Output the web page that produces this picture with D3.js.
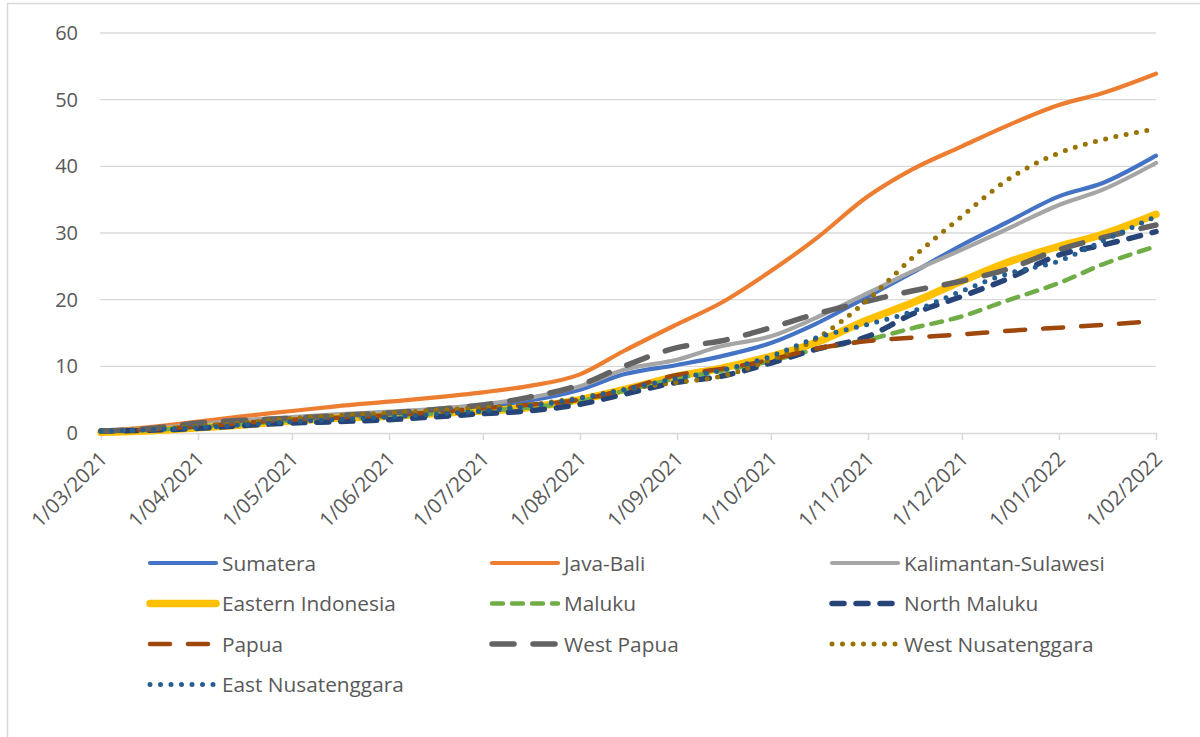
<!DOCTYPE html>
<html>
<head>
<meta charset="utf-8">
<script src="https://cdn.jsdelivr.net/npm/d3@7"></script>
<style>
  html, body { margin: 0; padding: 0; background: #fff; }
  svg { display: block; font-family: "Open Sans", "Noto Sans", sans-serif; }
</style>
</head>
<body>
<svg id="chart" width="1200" height="737"></svg>
<script>
// Semi-monthly sample dates, March 2021 to February 2022
const dates = ["2021-03-01","2021-03-15","2021-04-01","2021-04-15","2021-05-01","2021-05-15",
  "2021-06-01","2021-06-15","2021-07-01","2021-07-15","2021-08-01","2021-08-15",
  "2021-09-01","2021-09-15","2021-10-01","2021-10-15","2021-11-01","2021-11-15",
  "2021-12-01","2021-12-15","2022-01-01","2022-01-15","2022-02-01"];

// Region series
const sumatera   = [0.3,0.5,1.2,1.7,2.2,2.6,3.0,3.4,4.0,4.8,6.5,8.8,10.2,11.5,13.5,16.3,20.5,24.0,28.2,31.5,35.5,37.5,41.6];
const javaBali   = [0.3,0.8,1.7,2.5,3.3,4.0,4.7,5.3,6.1,7.0,8.8,12.3,16.3,19.5,24.3,29.0,35.5,39.5,43.0,46.0,49.2,51.0,53.9];
const kalSul     = [0.3,0.6,1.3,1.9,2.4,2.8,3.2,3.6,4.3,5.2,7.0,9.5,11.0,13.0,14.5,17.2,21.0,24.2,27.5,30.5,34.2,36.5,40.5];
const easternIdn = [0.1,0.3,0.8,1.2,1.8,2.2,2.5,2.9,3.3,3.8,5.0,6.5,8.5,9.7,11.5,13.5,17.0,19.5,22.8,25.5,28.0,29.8,32.8];
const maluku     = [0.2,0.4,0.9,1.3,1.9,2.2,2.5,2.9,3.3,3.8,4.8,6.3,8.2,9.3,10.8,12.5,14.0,15.7,17.5,19.8,22.5,25.3,28.0];
const northMal   = [0.3,0.4,0.7,1.1,1.5,1.7,2.0,2.4,2.9,3.3,4.3,5.8,7.6,8.5,10.5,12.5,14.5,17.8,20.5,23.0,26.7,28.2,30.2];
const papua      = [0.3,0.5,1.0,1.5,2.0,2.3,2.7,3.1,3.7,4.2,5.0,6.5,8.7,9.6,11.0,12.6,13.8,14.3,14.8,15.3,15.8,16.2,16.8];
const westPapua  = [0.3,0.6,1.5,1.9,2.2,2.6,3.0,3.5,4.2,5.3,7.2,10.0,12.8,13.8,15.8,17.8,19.8,21.3,22.8,24.5,27.5,29.3,31.2];
const westNusa   = [0.3,0.5,1.0,1.5,2.2,2.6,3.0,3.4,3.8,4.2,5.3,6.5,7.6,8.5,11.0,14.0,20.0,26.2,32.5,37.8,42.0,44.0,45.6];
const eastNusa   = [0.3,0.5,0.8,1.2,1.7,2.0,2.4,2.8,3.3,4.0,5.2,6.5,8.2,9.4,11.5,14.2,16.3,18.2,21.3,23.8,25.8,28.8,32.5];

const seriesNames = ["Sumatera","Java-Bali","Kalimantan-Sulawesi","Eastern Indonesia","Maluku",
  "North Maluku","Papua","West Papua","West Nusatenggara","East Nusatenggara"];
const seriesValues = [sumatera, javaBali, kalSul, easternIdn, maluku, northMal, papua, westPapua, westNusa, eastNusa];

// Axis ticks
const xTickDates = ["2021-03-01","2021-04-01","2021-05-01","2021-06-01","2021-07-01","2021-08-01",
  "2021-09-01","2021-10-01","2021-11-01","2021-12-01","2022-01-01","2022-02-01"];
const xTickLabels = ["1/03/2021","1/04/2021","1/05/2021","1/06/2021","1/07/2021","1/08/2021",
  "1/09/2021","1/10/2021","1/11/2021","1/12/2021","1/01/2022","1/02/2022"];
const yTicks = [0,10,20,30,40,50,60];

// Line styles per series
const styles = [
  {color:"#4472C4", width:4.2, dash:null},
  {color:"#ED7D31", width:4.2, dash:null},
  {color:"#A5A5A5", width:4.2, dash:null},
  {color:"#FFC000", width:7.5, dash:null},
  {color:"#70AD47", width:4.5, dash:"11,9"},
  {color:"#264478", width:5.5, dash:"12,12"},
  {color:"#9E480E", width:4.5, dash:"20,18"},
  {color:"#636363", width:5.5, dash:"22,19"},
  {color:"#997300", width:5,   dash:"0,10.5"},
  {color:"#255E91", width:5,   dash:"0,10.5"}
];

const parse = d3.timeParse("%Y-%m-%d");
const svg = d3.select("#chart");

// Chart frame
svg.append("rect").attr("x", 7.5).attr("y", 3.5).attr("width", 1210).attr("height", 750)
  .attr("fill", "#fff").attr("stroke", "#d9d9d9").attr("stroke-width", 1.5);

const x = d3.scaleTime().domain([parse(dates[0]), parse(dates[dates.length - 1])]).range([101, 1156]);
const y = d3.scaleLinear().domain([0, 60]).range([433, 33]);

// Horizontal gridlines
svg.append("g").selectAll("line").data(yTicks.filter(v => v > 0)).join("line")
  .attr("x1", 100).attr("x2", 1156)
  .attr("y1", d => y(d)).attr("y2", d => y(d))
  .attr("stroke", "#d9d9d9").attr("stroke-width", 1.3);

// Y axis labels
const yAxis = d3.axisLeft(y).tickValues(yTicks).tickSize(0).tickPadding(0);
const gy = svg.append("g").attr("transform", "translate(78,0)").call(yAxis);
gy.select(".domain").remove();
gy.selectAll("text").attr("fill", "#595959").style("font-size", "20px")
  .style("font-family", "'Open Sans', sans-serif");

// X axis with rotated date labels
const xAxis = d3.axisBottom(x).tickValues(xTickDates.map(parse))
  .tickFormat((d, i) => xTickLabels[i]).tickSizeInner(7).tickSizeOuter(0).tickPadding(4);
const gx = svg.append("g").attr("transform", `translate(0,${y(0)})`).call(xAxis);
gx.select(".domain").attr("stroke", "#d9d9d9").attr("stroke-width", 1.5).attr("d", "M100,0.5H1157");
gx.selectAll(".tick line").attr("stroke", "#d9d9d9").attr("stroke-width", 1.5);
gx.selectAll("text").attr("fill", "#595959").style("font-size", "20.5px")
  .style("font-family", "'Open Sans', sans-serif")
  .attr("text-anchor", "end").attr("y", 0).attr("dy", "0.35em")
  .attr("transform", "translate(2,22) rotate(-45)");

// Series lines
const line = d3.line().x(d => x(d.date)).y(d => y(d.value)).curve(d3.curveMonotoneX);
seriesValues.forEach((vals, i) => {
  const pts = vals.map((v, j) => ({date: parse(dates[j]), value: v}));
  const st = styles[i];
  svg.append("path").datum(pts).attr("d", line)
    .attr("fill", "none").attr("stroke", st.color).attr("stroke-width", st.width)
    .attr("stroke-linecap", "round").attr("stroke-linejoin", "round")
    .attr("stroke-dasharray", st.dash);
});

// Legend
const colX = [148, 490, 830];
const rowY = [563, 603.5, 644, 684.5];
const legend = svg.append("g");
seriesNames.forEach((name, i) => {
  const st = styles[i];
  const cx = colX[i % 3], cy = rowY[Math.floor(i / 3)];
  legend.append("line").attr("x1", cx + 2).attr("x2", cx + 68).attr("y1", cy).attr("y2", cy)
    .attr("stroke", st.color).attr("stroke-width", st.width)
    .attr("stroke-linecap", "round").attr("stroke-dasharray", st.dash);
  legend.append("text").attr("x", cx + 74).attr("y", cy + 7.5)
    .attr("fill", "#595959").style("font-size", "20.8px").text(name);
});
</script>
</body>
</html>
